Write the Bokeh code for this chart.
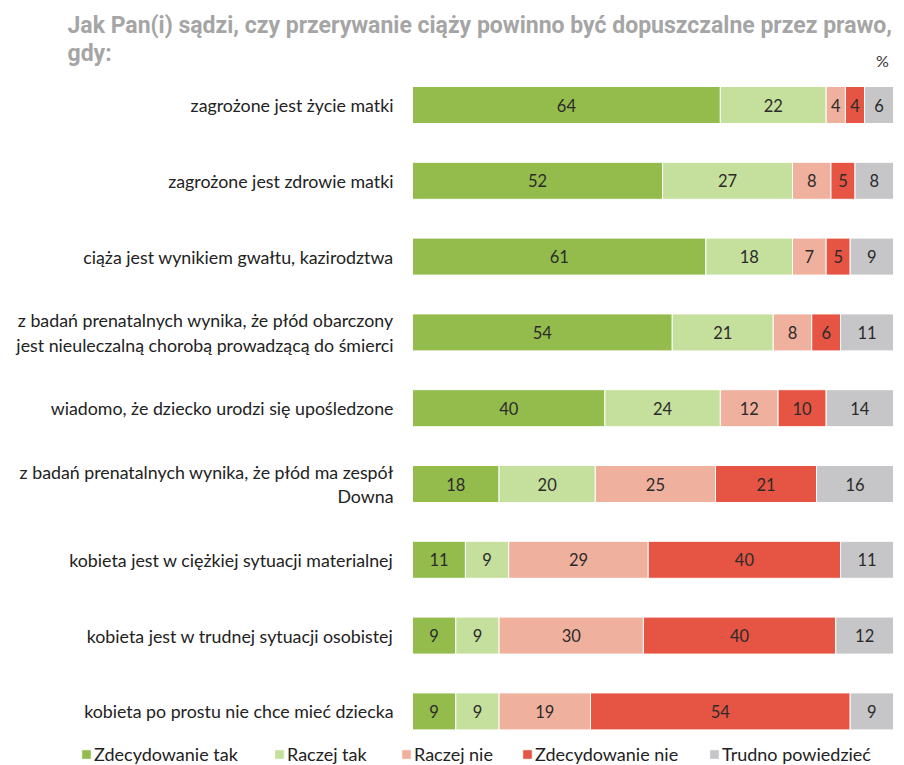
from bokeh.plotting import figure
from bokeh.models import Range1d, ColumnDataSource, Label, Legend, LegendItem
from bokeh.core.properties import value
from bokeh.embed import file_html
from bokeh.resources import INLINE

# ---- data ----
categories = [
    "zagrożone jest życie matki",
    "zagrożone jest zdrowie matki",
    "ciąża jest wynikiem gwałtu, kazirodztwa",
    "z badań prenatalnych wynika, że płód obarczony\njest nieuleczalną chorobą prowadzącą do śmierci",
    "wiadomo, że dziecko urodzi się upośledzone",
    "z badań prenatalnych wynika, że płód ma zespół\nDowna",
    "kobieta jest w ciężkiej sytuacji materialnej",
    "kobieta jest w trudnej sytuacji osobistej",
    "kobieta po prostu nie chce mieć dziecka",
]
zdecydowanie_tak = [64, 52, 61, 54, 40, 18, 11, 9, 9]
raczej_tak = [22, 27, 18, 21, 24, 20, 9, 9, 9]
raczej_nie = [4, 8, 7, 8, 12, 25, 29, 30, 19]
zdecydowanie_nie = [4, 5, 5, 6, 10, 21, 40, 40, 54]
trudno_powiedziec = [6, 8, 9, 11, 14, 16, 11, 12, 9]
series_names = ["Zdecydowanie tak", "Raczej tak", "Raczej nie", "Zdecydowanie nie", "Trudno powiedzieć"]
series_values = [zdecydowanie_tak, raczej_tak, raczej_nie, zdecydowanie_nie, trudno_powiedziec]
colors = ["#94BC4C", "#C5DF9C", "#F0B09E", "#E65443", "#C6C6C8"]
title_line1 = "Jak Pan(i) sądzi, czy przerywanie ciąży powinno być dopuszczalne przez prawo,"
title_line2 = "gdy:"

FONT = "Lato"
W, H = 904, 765
# layout: pixel geometry of the bar area
BAR_X0, BAR_X1 = 412, 893        # px of 0% and 100%
ROW0_Y, ROW_STEP = 104.5, 75.8   # px of first row centre and row spacing
XS = (BAR_X1 - BAR_X0) / 100.0
LEGEND_X = [80, 273, 400, 521, 708]


def dx(px):
    return (px - BAR_X0) / XS


def dy(py):
    return (py - ROW0_Y) / ROW_STEP


p = figure(width=W, height=H, output_backend="svg", toolbar_location=None,
           x_range=Range1d(dx(0), dx(W)), y_range=Range1d(dy(H), dy(0)),
           min_border=0)
p.axis.visible = False
p.grid.visible = False
p.outline_line_color = None
p.background_fill_color = "white"
p.border_fill_color = "white"

n = len(categories)
ys = list(range(n))
left = [0.0] * n
renderers = []
for name, vals, col in zip(series_names, series_values, colors):
    right = [l + v for l, v in zip(left, vals)]
    src = ColumnDataSource(dict(y=ys, left=left, right=right,
                                mid=[(l + r) / 2 for l, r in zip(left, right)],
                                txt=[str(v) for v in vals]))
    r = p.hbar(y="y", left="left", right="right", height=37 / ROW_STEP, source=src,
               fill_color=col, line_color="white", line_width=1)
    renderers.append((name, r))
    p.text(x="mid", y="y", text="txt", source=src, text_align="center",
           text_baseline="middle", text_color="#2b2b2b",
           text_font=value(FONT), text_font_size="16.5px")
    left = right

# category labels
cat_src = ColumnDataSource(dict(y=ys, x=[dx(393)] * n, label=categories))
p.text(x="x", y="y", text="label", source=cat_src, text_align="right",
       text_baseline="middle", text_color="#222222", text_font=value(FONT),
       text_font_size="17.8px", text_line_height=1.12)

# title and unit
for txt, base in ((title_line1, 25), (title_line2, 53)):
    p.add_layout(Label(x=dx(67), y=dy(base), text=txt, text_font="Roboto",
                       text_font_style="bold", text_font_size="23px", text_color="#A5A5A5",
                       text_baseline="alphabetic"))
p.add_layout(Label(x=dx(882), y=dy(60), text="%", text_font=FONT, text_font_size="16px",
                   text_color="#333333", text_align="center", text_baseline="middle"))

# legend: one entry per series, each at its own place
for (nm, r), lx in zip(renderers, LEGEND_X):
    lg = Legend(items=[LegendItem(label=nm, renderers=[r])],
                location=(lx, 0),
                label_text_font=FONT, label_text_font_size="18px", label_text_color="#222222",
                glyph_width=12, glyph_height=12, label_standoff=2,
                border_line_color=None, background_fill_alpha=0, padding=0, margin=0)
    p.add_layout(lg, "center")

open("out.html", "w").write(file_html(p, INLINE))
